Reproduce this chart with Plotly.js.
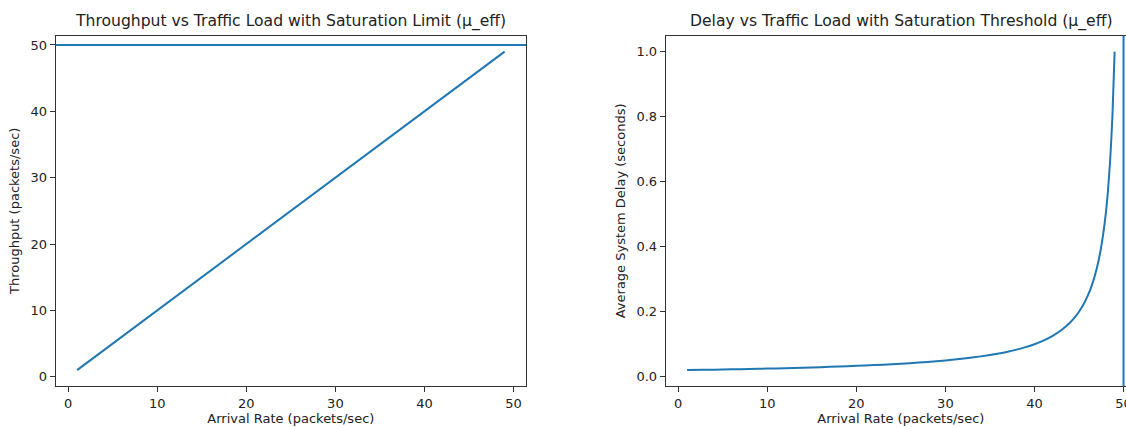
<!DOCTYPE html>
<html>
<head>
<meta charset="utf-8">
<script src="https://cdn.plot.ly/plotly-3.0.1.min.js"></script>
<style>
  html, body { margin: 0; padding: 0; overflow: hidden; background: #fff; }
  #chart { width: 1140px; height: 428px; }
</style>
</head>
<body>
<div id="chart"></div>
<script>
// ---- data ----
const muEff = 50;
const arrivalRate = [1, 49];
const throughput = [1, 49];

const delayArrival = [1, 3, 5, 7, 9, 11, 13, 15, 17, 19, 21, 23, 25, 27, 29, 31, 33, 35, 36, 37, 38, 39, 40, 41, 42, 43, 44, 44.5, 45, 45.5, 46, 46.5, 47, 47.5, 48, 48.25, 48.5, 48.75, 49];
const delaySeconds = [0.0204, 0.0213, 0.0222, 0.0233, 0.0244, 0.0256, 0.0270, 0.0286, 0.0303, 0.0323, 0.0345, 0.0370, 0.0400, 0.0435, 0.0476, 0.0526, 0.0588, 0.0667, 0.0714, 0.0769, 0.0833, 0.0909, 0.1000, 0.1111, 0.1250, 0.1429, 0.1667, 0.1818, 0.2000, 0.2222, 0.2500, 0.2857, 0.3333, 0.4000, 0.5000, 0.5714, 0.6667, 0.8000, 1.0000];

const leftTicks = [0, 10, 20, 30, 40, 50];
const leftYTicks = [0, 10, 20, 30, 40, 50];
const rightYTicks = [0.0, 0.2, 0.4, 0.6, 0.8, 1.0];
const rightYTickText = ['0.0', '0.2', '0.4', '0.6', '0.8', '1.0'];

const titleLeft = 'Throughput vs Traffic Load with Saturation Limit (μ_eff)';
const titleRight = 'Delay vs Traffic Load with Saturation Threshold (μ_eff)';
const xLabel = 'Arrival Rate (packets/sec)';
const yLabelLeft = 'Throughput (packets/sec)';
const yLabelRight = 'Average System Delay (seconds)';

// ---- layout ----
const W = 1140, H = 428;
const blue = '#1f77b4';
const txt = '#222';
const font = { family: 'DejaVu Sans, sans-serif', size: 13, color: txt };

const axisCommon = {
  showline: true, mirror: true, linecolor: '#333', linewidth: 1,
  ticks: 'outside', ticklen: 5, tickwidth: 1, tickcolor: '#333',
  showgrid: false, zeroline: false,
  tickfont: { family: font.family, size: 13, color: txt },
  title: { font: { family: font.family, size: 13, color: txt } }
};

const yTop = 1 - 35.7 / H, yBot = 1 - 386 / H;

const traces = [
  { x: arrivalRate, y: throughput, type: 'scatter', mode: 'lines',
    line: { color: blue, width: 2 }, xaxis: 'x', yaxis: 'y', hoverinfo: 'skip' },
  { x: delayArrival, y: delaySeconds, type: 'scatter', mode: 'lines',
    line: { color: blue, width: 2, shape: 'spline', smoothing: 0.6 }, xaxis: 'x2', yaxis: 'y2', hoverinfo: 'skip' }
];

const layout = {
  width: W, height: H,
  margin: { l: 0, r: 0, t: 0, b: 0 },
  paper_bgcolor: '#fff', plot_bgcolor: '#fff',
  showlegend: false,
  font: font,
  xaxis: Object.assign({}, axisCommon, {
    domain: [55.7 / W, 526 / W], range: [-1.4, 51.4], anchor: 'y',
    tickvals: leftTicks,
    title: { text: xLabel, font: axisCommon.title.font, standoff: 4 }
  }),
  yaxis: Object.assign({}, axisCommon, {
    domain: [yBot, yTop], range: [-1.4, 51.4], anchor: 'x',
    tickvals: leftYTicks,
    title: { text: yLabelLeft, font: axisCommon.title.font, standoff: 7 }
  }),
  xaxis2: Object.assign({}, axisCommon, {
    domain: [665.7 / W, 1136 / W], range: [-1.4, 51.4], anchor: 'y2',
    tickvals: leftTicks,
    title: { text: xLabel, font: axisCommon.title.font, standoff: 4 }
  }),
  yaxis2: Object.assign({}, axisCommon, {
    domain: [yBot, yTop], range: [-0.0286, 1.049], anchor: 'x2',
    tickvals: rightYTicks, ticktext: rightYTickText,
    title: { text: yLabelRight, font: axisCommon.title.font, standoff: 7 }
  }),
  shapes: [
    { type: 'line', xref: 'x domain', yref: 'y', x0: 0, x1: 1, y0: muEff, y1: muEff,
      line: { color: blue, width: 2 } },
    { type: 'line', xref: 'x2', yref: 'y2 domain', x0: muEff, x1: muEff, y0: 0, y1: 1,
      line: { color: blue, width: 2 } }
  ],
  annotations: [
    { text: titleLeft, xref: 'x domain', yref: 'paper', x: 0.5, y: 1 - 21 / H,
      xanchor: 'center', yanchor: 'middle', showarrow: false,
      font: { family: font.family, size: 15.6, color: txt } },
    { text: titleRight, xref: 'x2 domain', yref: 'paper', x: 0.5, y: 1 - 21 / H,
      xanchor: 'center', yanchor: 'middle', showarrow: false,
      font: { family: font.family, size: 15.6, color: txt } }
  ]
};

Plotly.newPlot('chart', traces, layout, { displayModeBar: false, staticPlot: true });
</script>
</body>
</html>
